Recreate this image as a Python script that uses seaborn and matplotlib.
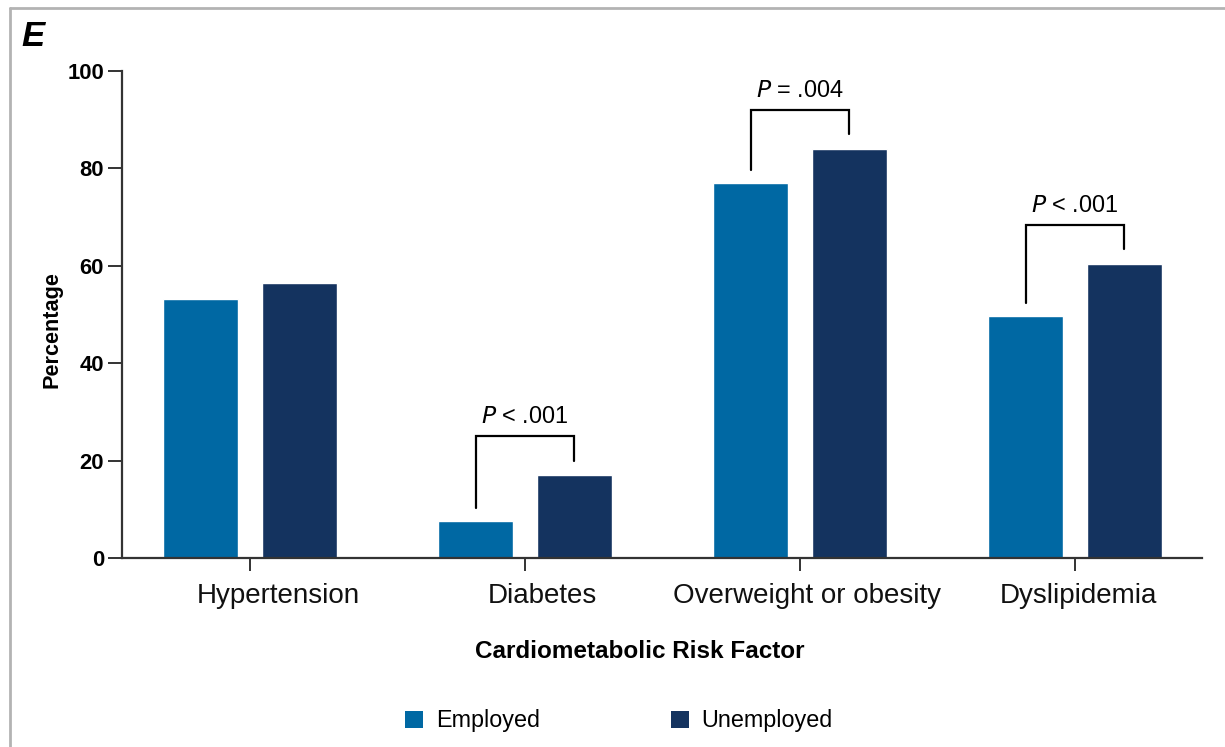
import matplotlib
matplotlib.use("Agg")
import matplotlib.pyplot as plt
from matplotlib.lines import Line2D
from matplotlib.patches import Patch
from matplotlib.transforms import ScaledTranslation
import seaborn as sns
import pandas as pd

# Share of each group with the risk factor (%)
categories = ["Hypertension", "Diabetes", "Overweight or obesity", "Dyslipidemia"]
groups = ["Employed", "Unemployed"]
employed = [53.2, 7.6, 77.0, 49.7]
unemployed = [56.4, 17.0, 84.0, 60.4]
p_labels = [None, "< .001", "= .004", "< .001"]
y_ticks = [0, 20, 40, 60, 80, 100]

colors = {"Employed": "#0068a3", "Unemployed": "#14335f"}

sns.set_theme(style="white")
plt.rcParams["font.family"] = ["Liberation Sans", "DejaVu Sans"]
plt.rcParams["text.color"] = "black"

df = pd.DataFrame({
    "Risk factor": categories * 2,
    "Group": [groups[0]] * len(categories) + [groups[1]] * len(categories),
    "Percentage": employed + unemployed,
})

W, H = 1225, 747
fig = plt.figure(figsize=(W / 100, H / 100), dpi=100)
ax = fig.add_axes([122 / W, 1 - 558 / H, (1202 - 122) / W, (558 - 71) / H])

sns.barplot(data=df, x="Risk factor", y="Percentage", hue="Group",
            hue_order=groups, palette=colors, width=0.713, gap=0.235,
            saturation=1, ax=ax, legend=False)

ax.set_ylim(0, 100)
ax.set_xlim(-0.4655, 3.4618)
ax.set_yticks(y_ticks)
ax.set_yticklabels([str(t) for t in y_ticks], fontsize=15.8,
                   fontweight="bold", color="black")
ax.set_xticks(range(len(categories)))
ax.set_xticklabels(categories, fontsize=20, color="#111111")
ax.tick_params(axis="y", left=True, length=10, width=1.4, color="#333333", pad=3)
ax.tick_params(axis="x", bottom=True, length=9, width=1.4, color="#333333", pad=9)

# Category names sit slightly right of their tick marks
label_shift_px = [28, 17, 7, 3]
for lbl, dx in zip(ax.get_xticklabels(), label_shift_px):
    lbl.set_transform(lbl.get_transform() + ScaledTranslation(dx / 100, 0, fig.dpi_scale_trans))

for side in ["top", "right"]:
    ax.spines[side].set_visible(False)
for side in ["left", "bottom"]:
    ax.spines[side].set_color("#333333")
    ax.spines[side].set_linewidth(1.6)

ax.set_xlabel("")
ax.set_ylabel("")
fig.text(51.5 / W, 1 - 330 / H, "Percentage", rotation=90, ha="center",
         va="center", fontsize=15.6, fontweight="bold")

# Significance brackets between the two groups
off = 0.178
for i, p in enumerate(p_labels):
    if p is None:
        continue
    e, u = employed[i], unemployed[i]
    top = max(e, u) + 8
    x0, x1 = i - off, i + off
    ax.plot([x0, x0, x1, x1], [e + 2.6, top, top, u + 3],
            color="black", lw=1.6, solid_joinstyle="miter", clip_on=False)
    ax.text(i, top + 4.0, r"$\it{P}$" + " " + p, ha="center", va="center",
            fontsize=16.9, color="black")

fig.text(640 / W, 1 - 652 / H, "Cardiometabolic Risk Factor",
         ha="center", va="center", fontsize=17.5, fontweight="bold")
fig.text(21 / W, 1 - 37 / H, "E", ha="left", va="center",
         fontsize=25, fontweight="bold", fontstyle="italic")

handles = [Patch(facecolor=colors[g], edgecolor="none") for g in groups]
fig.legend(handles, groups, loc="center", bbox_to_anchor=(619 / W, 1 - 721 / H),
           ncol=2, frameon=False, fontsize=16.8, handlelength=0.78,
           handleheight=0.78, handletextpad=0.55, columnspacing=5.6)

# Panel frame (top and left edges)
frame_kw = dict(color="#b3b3b3", lw=2, transform=fig.transFigure)
fig.add_artist(Line2D([10 / W, 1], [1 - 8 / H, 1 - 8 / H], **frame_kw))
fig.add_artist(Line2D([10 / W, 10 / W], [0, 1 - 8 / H], **frame_kw))

fig.savefig("out.png", dpi=100)
